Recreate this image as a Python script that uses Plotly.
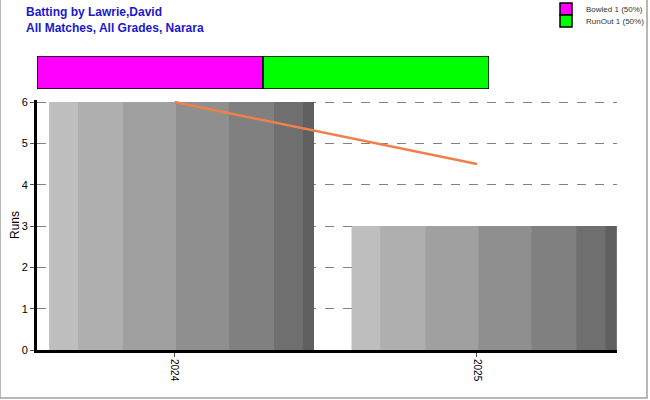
import plotly.graph_objects as go

# season totals
years = [2024, 2025]
runs = [6, 3]
avg_runs = [6, 4.5]

# dismissal breakdown
how_out = ['Bowled', 'RunOut']
how_out_count = [1, 1]
how_out_colors = ['#FF00FF', '#00FF00']

# stripes used to fake the grey gradient on each bar
stripe_edges = [0, 0.109, 0.279, 0.479, 0.679, 0.849, 0.958, 1.0]
stripe_colors = ['#BEBEBE', '#AFAFAF', '#A0A0A0', '#8F8F8F', '#808080', '#6F6F6F', '#606060']
bar_start = -0.415
bar_width = 0.876

PW, PH = 580, 294  # plot area in px

fig = go.Figure()

# each stripe runs to the end of the bar, the next one covers it -> no hairline gaps
for i, col in enumerate(stripe_colors):
    off = bar_start + stripe_edges[i] * bar_width
    w = (1.0 - stripe_edges[i]) * bar_width
    fig.add_trace(go.Bar(
        x=years, y=runs,
        offset=off, width=w,
        marker=dict(color=col, line=dict(width=0)),
        showlegend=False, hoverinfo='skip',
    ))

fig.add_trace(go.Scatter(
    x=years, y=avg_runs, mode='lines',
    line=dict(color='#F0804A', width=2.5),
    showlegend=False,
))

# one legend per dismissal type so the two rows can sit close together
total = sum(how_out_count)
base = 0
legend_rows = [9, 21]  # px from top
legends = {}
for k, (name, cnt, col) in enumerate(zip(how_out, how_out_count, how_out_colors)):
    lg = 'legend' if k == 0 else f'legend{k + 1}'
    fig.add_trace(go.Bar(
        x=[cnt], y=['out'], base=[base], orientation='h',
        xaxis='x2', yaxis='y2',
        marker=dict(color=col, line=dict(color='black', width=1.5)),
        width=1, legend=lg,
        name=f'{name} {cnt} ({cnt / total * 100:.0f}%)',
    ))
    legends[lg] = dict(
        x=(546 - 37) / PW, y=1 + (56 - legend_rows[k]) / PH,
        xanchor='left', yanchor='middle',
        font=dict(size=8, color='#333'),
        bgcolor='rgba(0,0,0,0)', itemwidth=30,
    )
    base += cnt

fig.update_layout(
    width=650, height=400,
    barmode='overlay',
    paper_bgcolor='white', plot_bgcolor='white',
    margin=dict(l=37, r=33, t=56, b=50, autoexpand=False),
    font=dict(family='Arial, Liberation Sans', size=11, color='black'),
    xaxis=dict(
        range=[2023.545, 2025.463],
        tickvals=years, ticktext=[str(y) for y in years],
        tickangle=90, ticks='outside', ticklen=4, tickcolor='#555',
        showgrid=False, zeroline=False,
        showline=True, linecolor='black', linewidth=3,
        tickfont=dict(size=10),
    ),
    yaxis=dict(
        domain=[0, 250 / PH], range=[0, 6.05],
        tickvals=[0, 1, 2, 3, 4, 5, 6], ticks='outside', ticklen=4, tickcolor='#555',
        showgrid=True, gridcolor='#808080', griddash='dash', gridwidth=1,
        zeroline=False,
        showline=True, linecolor='black', linewidth=3,
        title=dict(text='Runs', font=dict(size=12), standoff=0),
        tickfont=dict(size=11),
    ),
    xaxis2=dict(
        domain=[0, 452 / PW], range=[0, total], anchor='y2',
        visible=False,
    ),
    yaxis2=dict(
        domain=[261 / PH, 1.0], range=[-0.5, 0.5], anchor='x2',
        visible=False,
    ),
    annotations=[dict(
        text='<b>Batting by Lawrie,David<br>All Matches, All Grades, Narara</b>',
        xref='paper', yref='paper', x=(24 - 37) / PW, y=1 + 53 / PH,
        xanchor='left', yanchor='top', align='left', showarrow=False,
        font=dict(family='Arial, Liberation Sans', size=12, color='#1A1AC8'),
    )],
    shapes=[dict(
        type='rect', xref='paper', yref='paper',
        x0=-37 / PW, x1=(647 - 37) / PW, y0=-48 / PH, y1=1 + 60 / PH,
        line=dict(color='#A0A0A0', width=1.5), layer='below',
    )],
    **legends,
)

fig.write_html('out.html', config={'displayModeBar': False},
               post_script="document.body.style.margin='0px';")
